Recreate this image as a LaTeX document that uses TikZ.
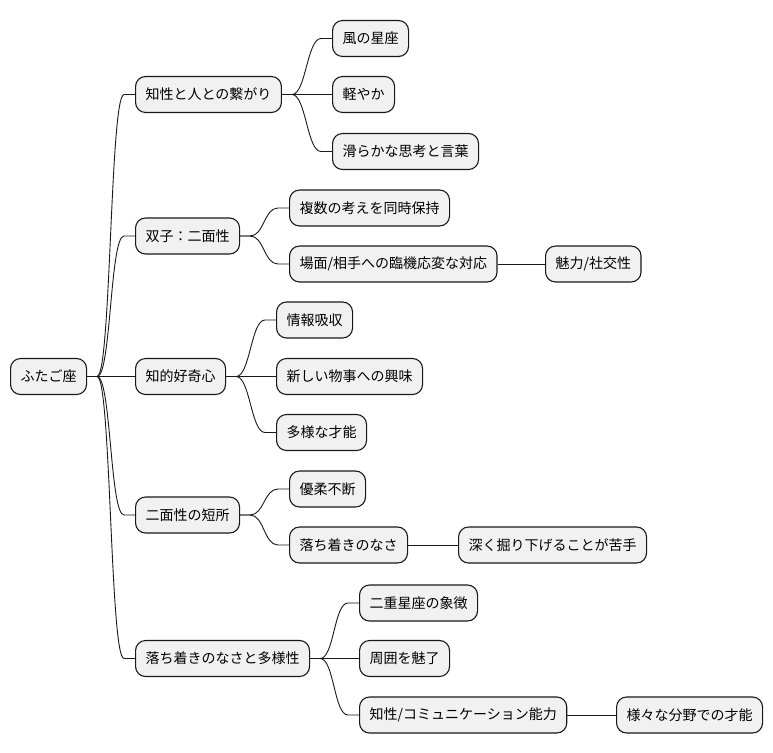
\documentclass[tikz,border=0pt]{standalone}
\usepackage{fontspec}
\newfontfamily\cjk{Noto Sans CJK JP}
\usetikzlibrary{calc}
\tikzset{
  mm/.style={draw=black!90, fill=black!5.5, line width=1.1pt, rounded corners=10pt,
    minimum height=36pt, inner xsep=10pt, inner ysep=0pt, anchor=west,
    font=\cjk\fontsize{14pt}{16pt}\selectfont, text=black},
  conn/.style={draw=black!90, line width=0.9pt}
}
\newcommand{\mmlink}[3]{%
  \draw[conn] (#1.east) -- ++(10,0) .. controls +(#3,0) and +(-#3,0) .. ($(#2.west)+(-11,0)$) -- (#2.west);}
\begin{document}
\begin{tikzpicture}[x=1pt,y=-1pt]
\useasboundingbox (0,0) rectangle (773,752);
% root
\node[mm] (r) at (10,376.5) {ふたご座};
% level 1
\node[mm] (a) at (135,94.5) {知性と人との繋がり};
\node[mm] (b) at (135,236) {双子：二面性};
\node[mm] (c) at (135,376.5) {知的好奇心};
\node[mm] (d) at (135,515) {二面性の短所};
\node[mm] (e) at (135,658.5) {落ち着きのなさと多様性};
% level 2
\node[mm] (a1) at (332,38.5) {風の星座};
\node[mm] (a2) at (332,94.5) {軽やか};
\node[mm] (a3) at (332,151.5) {滑らかな思考と言葉};
\node[mm] (b1) at (289,208) {複数の考えを同時保持};
\node[mm] (b2) at (289,264) {場面/相手への臨機応変な対応};
\node[mm] (b21) at (545,264) {魅力/社交性};
\node[mm] (c1) at (276,320) {情報吸収};
\node[mm] (c2) at (276,376.5) {新しい物事への興味};
\node[mm] (c3) at (276,432.5) {多様な才能};
\node[mm] (d1) at (289,489) {優柔不断};
\node[mm] (d2) at (289,545) {落ち着きのなさ};
\node[mm] (d21) at (458,545) {深く掘り下げることが苦手};
\node[mm] (e1) at (359,603) {二重星座の象徴};
\node[mm] (e2) at (359,658.5) {周囲を魅了};
\node[mm] (e3) at (359,715) {知性/コミュニケーション能力};
\node[mm] (e31) at (616,715) {様々な分野での才能};
% connectors
\foreach \n in {a,b,c,d,e} {\mmlink{r}{\n}{14}}
\foreach \n in {a1,a2,a3} {\mmlink{a}{\n}{14}}
\foreach \n in {b1,b2} {\mmlink{b}{\n}{14}}
\foreach \n in {c1,c2,c3} {\mmlink{c}{\n}{14}}
\foreach \n in {d1,d2} {\mmlink{d}{\n}{14}}
\foreach \n in {e1,e2,e3} {\mmlink{e}{\n}{14}}
\draw[conn] (b2.east) -- (b21.west);
\draw[conn] (d2.east) -- (d21.west);
\draw[conn] (e3.east) -- (e31.west);
\end{tikzpicture}
\end{document}
